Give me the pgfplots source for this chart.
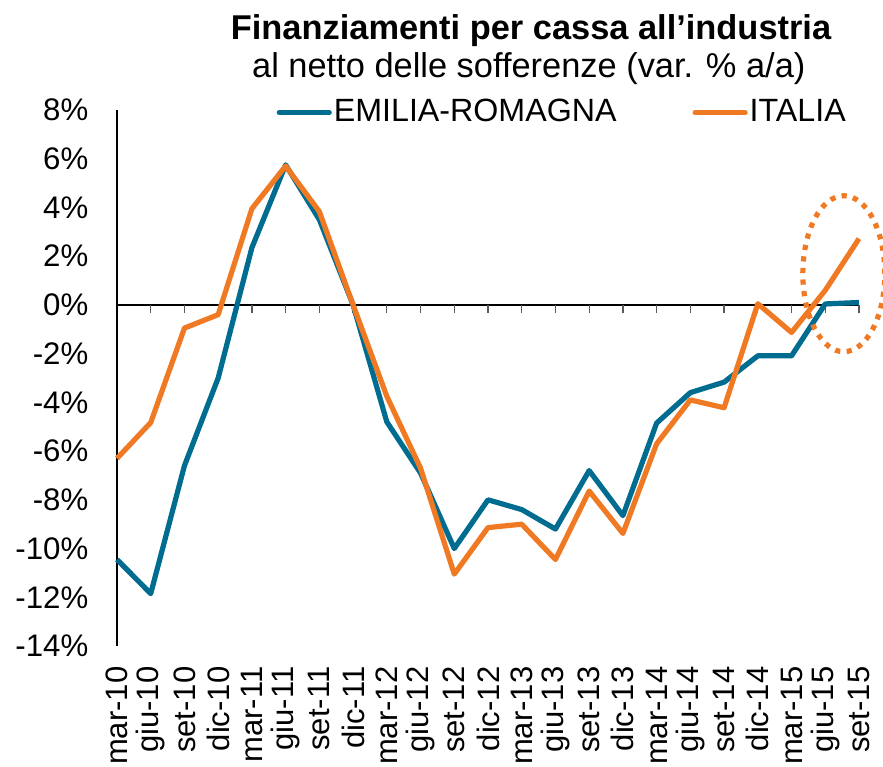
\documentclass[border=0pt]{standalone}
\usepackage{fontspec}
\setmainfont{Liberation Sans}
\usepackage{pgfplots}
\pgfplotsset{compat=1.18}
\definecolor{erblue}{RGB}{0,108,143}
\definecolor{itorange}{RGB}{240,122,36}
\begin{document}
\fontsize{15.5pt}{18pt}\selectfont
\begin{tikzpicture}
\begin{axis}[
  name=ax,
  scale only axis,
  width=371pt, height=268pt,
  xmin=0, xmax=22, ymin=-14, ymax=8,
  clip=false,
  axis y line*=left,
  axis x line*=bottom,
  x axis line style={draw=none},
  y axis line style={black, line width=0.6pt},
  xtick={0,...,22},
  xticklabels={mar-10,giu-10,set-10,dic-10,mar-11,giu-11,set-11,dic-11,mar-12,giu-12,set-12,dic-12,mar-13,giu-13,set-13,dic-13,mar-14,giu-14,set-14,dic-14,mar-15,giu-15,set-15},
  xticklabel style={rotate=90, anchor=east, yshift=0pt, xshift=-5pt, font=\fontsize{15.5pt}{18pt}\selectfont},
  ytick={-14,-12,...,8},
  yticklabels={-14\%,-12\%,-10\%,-8\%,-6\%,-4\%,-2\%,0\%,2\%,4\%,6\%,8\%},
  yticklabel style={xshift=-9pt, font=\fontsize{15.6pt}{18pt}\selectfont},
  major tick length=0pt,
  extra y ticks={0},
  extra y tick labels={},
  extra y tick style={grid=major, major grid style={black, line width=0.6pt}},
  legend style={draw=none, fill=none, at={(rel axis cs:0.6,0.995)}, anchor=center,
    font=\fontsize{16.1pt}{18pt}\selectfont, legend columns=2,
    /tikz/every even column/.append style={column sep=37pt},
    nodes={inner sep=1pt}},
  legend image code/.code={\draw[#1, line cap=round] (0pt,0pt) -- (25pt,0pt);},
]
\addplot[ycomb, gray!70!black, line width=0.6pt, no marks, forget plot] coordinates {
(1,-0.33)(2,-0.33)(3,-0.33)(4,-0.33)(5,-0.33)(6,-0.33)(7,-0.33)(8,-0.33)(9,-0.33)(10,-0.33)(11,-0.33)(12,-0.33)(13,-0.33)(14,-0.33)(15,-0.33)(16,-0.33)(17,-0.33)(18,-0.33)(19,-0.33)(20,-0.33)(21,-0.33)(22,-0.33)};
\addplot[erblue, line width=2.6pt, no marks, line join=round] coordinates {
(0,-10.45)(1,-11.85)(2,-6.6)(3,-3.0)(4,2.35)(5,5.75)(6,3.5)(7,0.0)(8,-4.8)(9,-6.9)(10,-10.0)(11,-8.0)(12,-8.4)(13,-9.2)(14,-6.8)(15,-8.65)(16,-4.85)(17,-3.6)(18,-3.17)(19,-2.09)(20,-2.09)(21,0.04)(22,0.1)};
\addlegendentry{EMILIA-ROMAGNA}
\addplot[itorange, line width=2.6pt, no marks, line join=round] coordinates {
(0,-6.3)(1,-4.83)(2,-0.95)(3,-0.4)(4,3.95)(5,5.7)(6,3.83)(7,0.0)(8,-3.75)(9,-6.7)(10,-11.05)(11,-9.14)(12,-9.0)(13,-10.45)(14,-7.64)(15,-9.38)(16,-5.7)(17,-3.9)(18,-4.22)(19,0.05)(20,-1.13)(21,0.6)(22,2.72)};
\addlegendentry{ITALIA}
\draw[itorange, line width=2.6pt, dash pattern=on 2.6pt off 3.2pt] (axis cs:21.55,1.28) ellipse [x radius=20.5pt, y radius=39pt];
\node[align=center, anchor=south, inner sep=0pt] at ([yshift=31.5pt]rel axis cs:0.558,1) {\fontsize{17.2pt}{20pt}\selectfont\bfseries Finanziamenti per cassa all’industria};
\node[align=center, anchor=south, inner sep=0pt] at ([yshift=12.5pt]rel axis cs:0.555,1) {\fontsize{17.2pt}{20pt}\selectfont al netto delle sofferenze (var. \% a/a)};
\end{axis}
\pgfresetboundingbox
\path ([xshift=-58.5pt,yshift=-60pt]ax.south west) rectangle ([xshift=12pt,yshift=55pt]ax.north east);
\end{tikzpicture}
\end{document}
